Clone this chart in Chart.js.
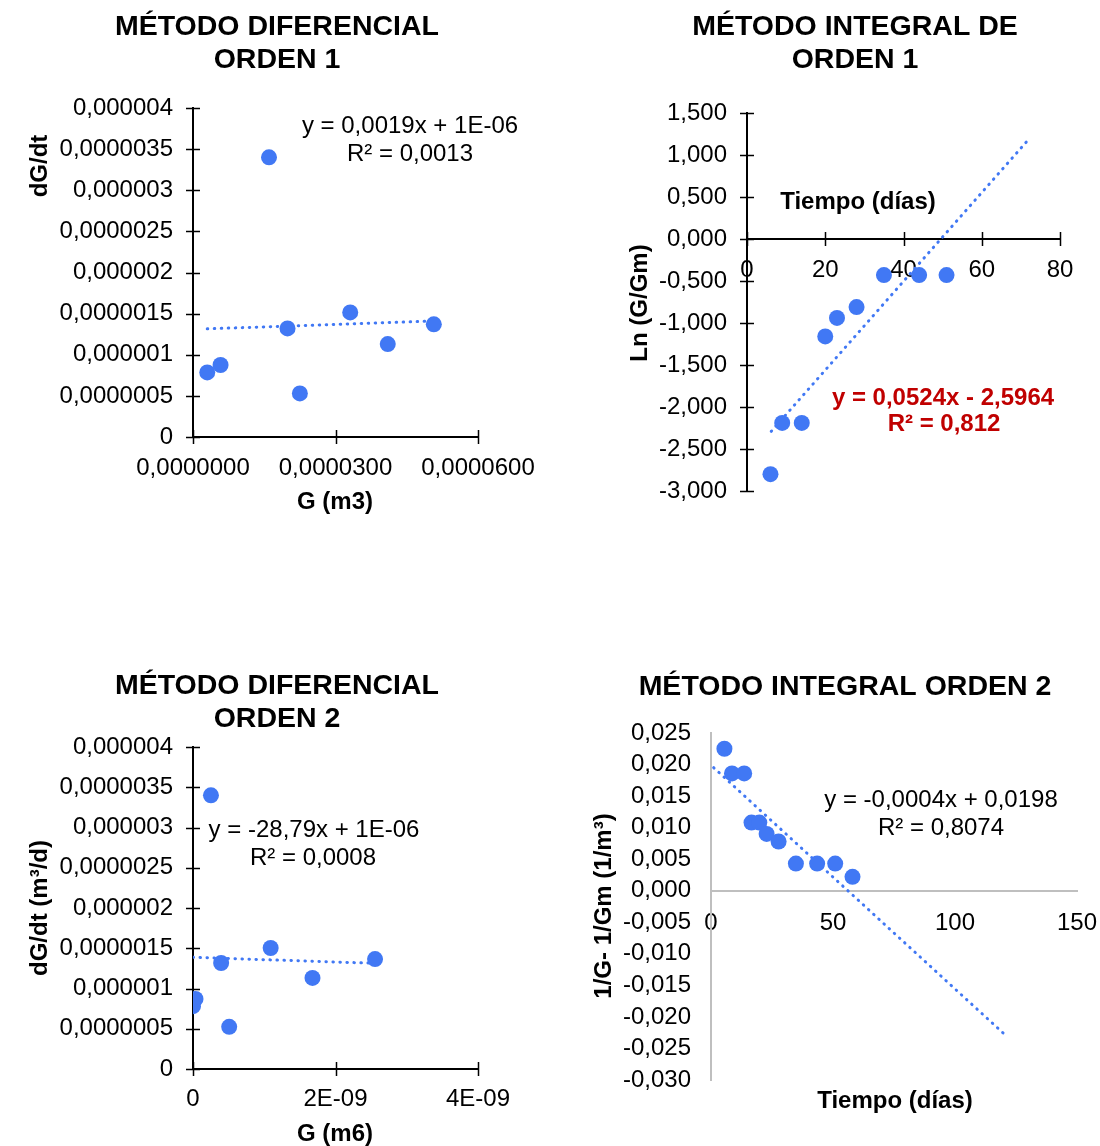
<!DOCTYPE html>
<html lang="es">
<head>
<meta charset="utf-8">
<title>Métodos diferencial e integral</title>
<script src="https://cdn.jsdelivr.net/npm/chart.js@4.4.1/dist/chart.umd.min.js"></script>
<style>
  body { margin: 0; background: #fff; }
  #page { position: relative; width: 1100px; height: 1146px; background: #fff; }
  canvas { position: absolute; }
</style>
</head>
<body>
<div id="page">
  <canvas id="c1" width="550" height="573" style="left:0;top:0"></canvas>
  <canvas id="c2" width="550" height="573" style="left:550px;top:0"></canvas>
  <canvas id="c3" width="550" height="573" style="left:0;top:573px"></canvas>
  <canvas id="c4" width="550" height="573" style="left:550px;top:573px"></canvas>
</div>
<script>
// --- Método diferencial orden 1 ---
const g1 = [3.0e-6, 5.8e-6, 1.60e-5, 1.99e-5, 2.25e-5, 3.31e-5, 4.10e-5, 5.07e-5];
const dGdt1 = [7.85e-7, 8.75e-7, 3.40e-6, 1.32e-6, 5.3e-7, 1.515e-6, 1.13e-6, 1.37e-6];
const trend1X = [3.0e-6, 5.07e-5];
const trend1Y = [1.315e-6, 1.41e-6];

// --- Método integral orden 1 ---
const tiempo2 = [6, 9, 14, 20, 23, 28, 35, 44, 51];
const lnG2 = [-2.80, -2.19, -2.19, -1.16, -0.94, -0.81, -0.43, -0.43, -0.43];
const trend2X = [6.2, 71.5];
const trend2Y = [-2.29, 1.16];

// --- Método diferencial orden 2 ---
const g3 = [0, 3.5e-11, 2.52e-10, 3.95e-10, 5.08e-10, 1.09e-9, 1.677e-9, 2.555e-9];
const dGdt3 = [7.8e-7, 8.7e-7, 3.40e-6, 1.317e-6, 5.24e-7, 1.503e-6, 1.131e-6, 1.366e-6];
const trend3X = [0, 2.555e-9];
const trend3Y = [1.387e-6, 1.313e-6];

// --- Método integral orden 2 ---
const tiempo4 = [5.5, 8.6, 13.6, 16.6, 19.8, 22.8, 27.7, 34.8, 43.5, 50.9, 58];
const invG4 = [0.0225, 0.0186, 0.0186, 0.0108, 0.0108, 0.0090, 0.0078, 0.0043, 0.0043, 0.0043, 0.0022];
const trend4X = [1.1, 120.7];
const trend4Y = [0.0195, -0.0229];

// ticks
const yTicksDif = [0, 5e-7, 1e-6, 1.5e-6, 2e-6, 2.5e-6, 3e-6, 3.5e-6, 4e-6];
const yLabelsDif = ["0", "0,0000005", "0,000001", "0,0000015", "0,000002", "0,0000025", "0,000003", "0,0000035", "0,000004"];
const xTicks1 = [0, 3e-5, 6e-5];
const xLabels1 = ["0,0000000", "0,0000300", "0,0000600"];
const yTicks2 = [-3, -2.5, -2, -1.5, -1, -0.5, 0, 0.5, 1, 1.5];
const yLabels2 = ["-3,000", "-2,500", "-2,000", "-1,500", "-1,000", "-0,500", "0,000", "0,500", "1,000", "1,500"];
const xTicks2 = [0, 20, 40, 60, 80];
const xLabels2 = ["0", "20", "40", "60", "80"];
const xTicks3 = [0, 2e-9, 4e-9];
const xLabels3 = ["0", "2E-09", "4E-09"];
const yTicks4 = [-0.03, -0.025, -0.02, -0.015, -0.01, -0.005, 0, 0.005, 0.01, 0.015, 0.02, 0.025];
const yLabels4 = ["-0,030", "-0,025", "-0,020", "-0,015", "-0,010", "-0,005", "0,000", "0,005", "0,010", "0,015", "0,020", "0,025"];
const xTicks4 = [0, 50, 100, 150];
const xLabels4 = ["0", "50", "100", "150"];

const AZUL = "#4178F4";
const FUENTE = "'Liberation Sans', Arial, sans-serif";

const textos = {
    id: "textos",
    afterDraw(chart, args, opts) {
        const ctx = chart.ctx;
        opts.items.forEach(it => {
            ctx.save();
            ctx.font = (it.bold ? "bold " : "") + it.size + "px " + FUENTE;
            ctx.fillStyle = it.color || "#000";
            ctx.textAlign = "center";
            ctx.textBaseline = "middle";
            ctx.translate(it.x - opts.left, it.y - opts.top);
            if (it.rotate) ctx.rotate(-Math.PI / 2);
            ctx.fillText(it.text, 0, 0);
            ctx.restore();
        });
    }
};

// tick marks that cross the axis line (Excel style)
const cruces = {
    id: "cruces",
    afterDraw(chart, args, opts) {
        if (!opts.show) return;
        const { ctx, chartArea, scales } = chart;
        const axisY = opts.xAtZero ? scales.y.getPixelForValue(0) : chartArea.bottom;
        const axisX = chartArea.left;
        ctx.save();
        ctx.strokeStyle = "#000";
        ctx.lineWidth = 1.5;
        ctx.beginPath();
        scales.x.ticks.forEach(t => {
            const px = Math.round(scales.x.getPixelForValue(t.value)) + 0.5;
            ctx.moveTo(px, axisY - 7);
            ctx.lineTo(px, axisY + 7);
        });
        scales.y.ticks.forEach(t => {
            const py = Math.round(scales.y.getPixelForValue(t.value)) + 0.5;
            ctx.moveTo(axisX - 7, py);
            ctx.lineTo(axisX + 7, py);
        });
        ctx.stroke();
        ctx.restore();
    }
};

function ejes(ticks, labels, min, max, pad, size, extra) {
    return Object.assign({
        type: "linear",
        min: min,
        max: max,
        afterBuildTicks: s => { s.ticks = ticks.map(v => ({ value: v })); },
        afterFit: s => {
            // fixed box size, no label overflow padding
            if (size) {
                if (s.isHorizontal()) s.height = size; else s.width = size;
            }
            s.paddingLeft = 0;
            s.paddingRight = 0;
            s.paddingTop = 0;
            s.paddingBottom = 0;
        },
        ticks: {
            callback: (v, i) => labels[i],
            font: { family: FUENTE, size: 24 },
            color: "#000",
            padding: pad,
            autoSkip: false,
            maxRotation: 0,
            minRotation: 0
        },
        grid: { display: true, drawOnChartArea: false, drawTicks: false },
        border: { display: true, color: "#000", width: 2 }
    }, extra || {});
}

function makeChart(id, cfg) {
    const puntos = cfg.xs.map((x, i) => ({ x: x, y: cfg.ys[i] }));
    const tendencia = cfg.tx.map((x, i) => ({ x: x, y: cfg.ty[i] }));

    new Chart(document.getElementById(id), {
        type: "scatter",
        data: {
            datasets: [{
                data: puntos,
                backgroundColor: AZUL,
                borderWidth: 0,
                pointRadius: 8,
                pointHoverRadius: 8
            }, {
                type: "line",
                data: tendencia,
                borderColor: AZUL,
                borderWidth: 3,
                borderDash: [0.5, 6.5],
                borderCapStyle: "round",
                pointRadius: 0,
                fill: false
            }]
        },
        options: {
            responsive: false,
            animation: false,
            events: [],
            layout: { padding: cfg.padding },
            scales: { x: cfg.x, y: cfg.y },
            plugins: {
                legend: { display: false },
                tooltip: { enabled: false },
                textos: { left: cfg.left, top: cfg.top, items: cfg.textos },
                cruces: cfg.cruces
            }
        },
        plugins: [textos, cruces]
    });
}

// chart 1
makeChart("c1", {
    xs: g1, ys: dGdt1, tx: trend1X, ty: trend1Y,
    left: 0, top: 0,
    padding: { top: 108, right: 72, left: 0, bottom: 0 },
    x: ejes(xTicks1, xLabels1, 0, 6e-5, 17, 136),
    y: ejes(yTicksDif, yLabelsDif, 0, 4e-6, 20, 193),
    cruces: { show: true, xAtZero: false },
    textos: [
        { text: "MÉTODO DIFERENCIAL", x: 277, y: 27, size: 28.5, bold: true },
        { text: "ORDEN 1", x: 277, y: 60, size: 28.5, bold: true },
        { text: "y = 0,0019x + 1E-06", x: 410, y: 126, size: 24 },
        { text: "R² = 0,0013", x: 410, y: 154, size: 24 },
        { text: "G (m3)", x: 335, y: 502, size: 24, bold: true },
        { text: "dG/dt", x: 40, y: 166, size: 24, bold: true, rotate: true }
    ]
});

// chart 2
makeChart("c2", {
    xs: tiempo2, ys: lnG2, tx: trend2X, ty: trend2Y,
    left: 550, top: 0,
    padding: { top: 113, right: 40, left: 0, bottom: 82 },
    x: ejes(xTicks2, xLabels2, 0, 80, 17, 0, { position: { y: 0 } }),
    y: ejes(yTicks2, yLabels2, -3, 1.5, 20, 197),
    cruces: { show: true, xAtZero: true },
    textos: [
        { text: "MÉTODO INTEGRAL DE", x: 855, y: 27, size: 28.5, bold: true },
        { text: "ORDEN 1", x: 855, y: 60, size: 28.5, bold: true },
        { text: "Tiempo (días)", x: 858, y: 202, size: 24, bold: true },
        { text: "Ln (G/Gm)", x: 640, y: 303, size: 24, bold: true, rotate: true },
        { text: "y = 0,0524x - 2,5964", x: 943, y: 398, size: 24, bold: true, color: "#C00000" },
        { text: "R² = 0,812", x: 944, y: 424, size: 24, bold: true, color: "#C00000" }
    ]
});

// chart 3
makeChart("c3", {
    xs: g3, ys: dGdt3, tx: trend3X, ty: trend3Y,
    left: 0, top: 573,
    padding: { top: 174, right: 72, left: 0, bottom: 0 },
    x: ejes(xTicks3, xLabels3, 0, 4e-9, 16, 77),
    y: ejes(yTicksDif, yLabelsDif, 0, 4e-6, 20, 193),
    cruces: { show: true, xAtZero: false },
    textos: [
        { text: "MÉTODO DIFERENCIAL", x: 277, y: 686, size: 28.5, bold: true },
        { text: "ORDEN 2", x: 277, y: 719, size: 28.5, bold: true },
        { text: "y = -28,79x + 1E-06", x: 314, y: 830, size: 24 },
        { text: "R² = 0,0008", x: 313, y: 858, size: 24 },
        { text: "G (m6)", x: 335, y: 1134, size: 24, bold: true },
        { text: "dG/dt (m³/d)", x: 40, y: 908, size: 24, bold: true, rotate: true }
    ]
});

// chart 4
makeChart("c4", {
    xs: tiempo4, ys: invG4, tx: trend4X, ty: trend4Y,
    left: 550, top: 573,
    padding: { top: 160, right: 23, left: 0, bottom: 66 },
    x: ejes(xTicks4, xLabels4, 0, 150, 18, 0, {
        position: { y: 0 },
        border: { display: true, color: "#BFBFBF", width: 2 }
    }),
    y: ejes(yTicks4, yLabels4, -0.03, 0.025, 20, 161, {
        border: { display: true, color: "#BFBFBF", width: 2 }
    }),
    cruces: { show: false },
    textos: [
        { text: "MÉTODO INTEGRAL ORDEN 2", x: 845, y: 687, size: 28.5, bold: true },
        { text: "y = -0,0004x + 0,0198", x: 941, y: 800, size: 24 },
        { text: "R² = 0,8074", x: 941, y: 828, size: 24 },
        { text: "Tiempo (días)", x: 895, y: 1101, size: 24, bold: true },
        { text: "1/G- 1/Gm (1/m³)", x: 604, y: 906, size: 24, bold: true, rotate: true }
    ]
});
</script>
</body>
</html>
